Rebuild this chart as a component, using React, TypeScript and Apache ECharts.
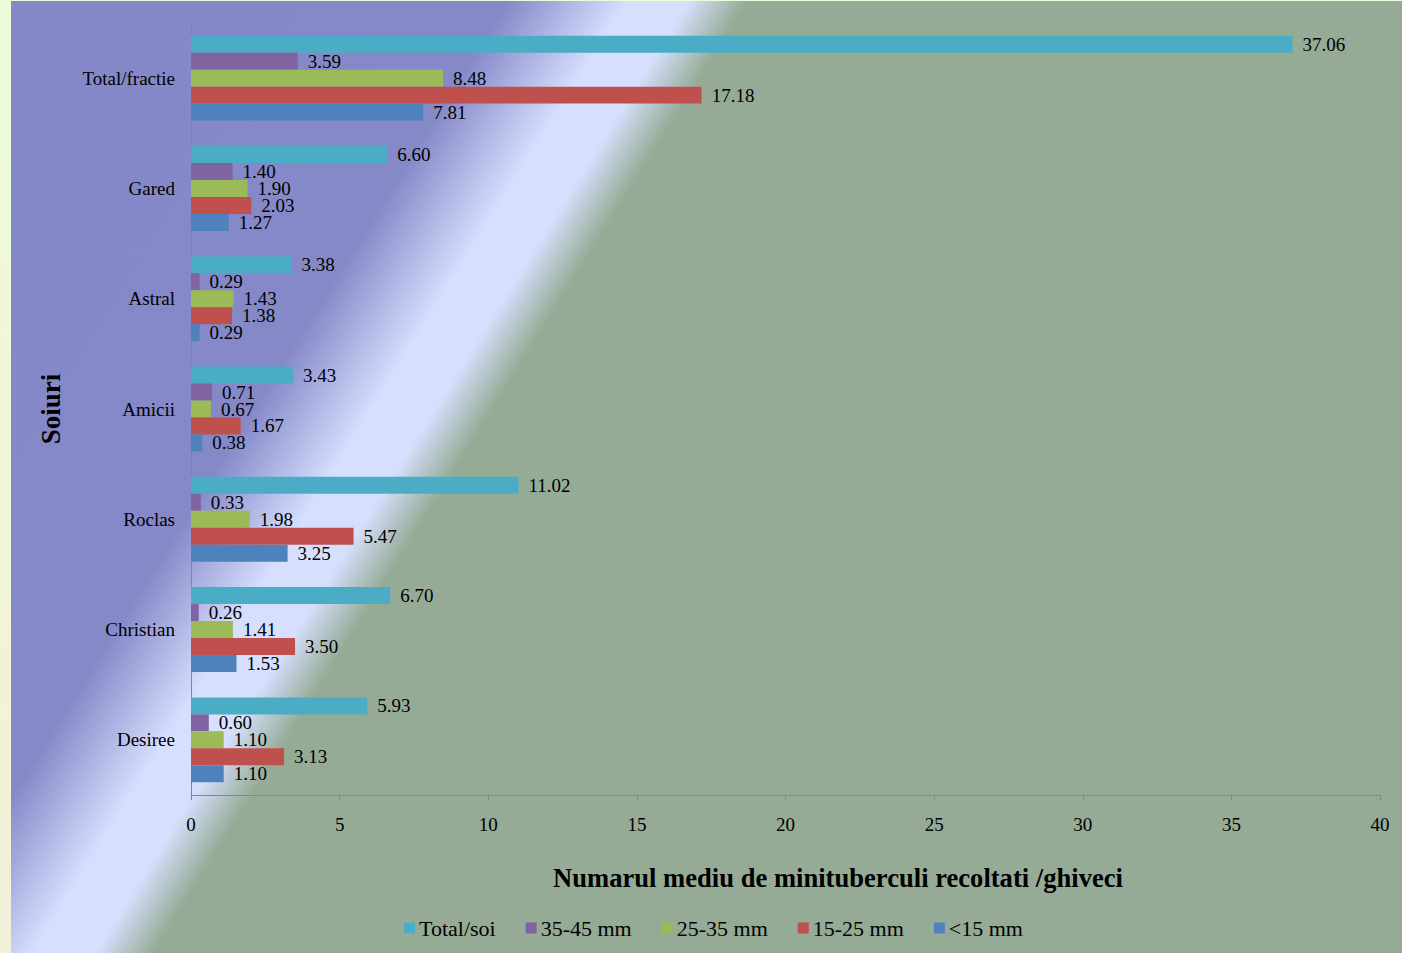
import React, { useEffect, useRef } from "react";
import * as echarts from "echarts";

const categories = ["Desiree", "Christian", "Roclas", "Amicii", "Astral", "Gared", "Total/fractie"];
const seriesNames = ["Total/soi", "35-45 mm", "25-35 mm", "15-25 mm", "<15 mm"];
const totalSoi = [5.93, 6.7, 11.02, 3.43, 3.38, 6.6, 37.06];
const mm35to45 = [0.6, 0.26, 0.33, 0.71, 0.29, 1.4, 3.59];
const mm25to35 = [1.1, 1.41, 1.98, 0.67, 1.43, 1.9, 8.48];
const mm15to25 = [3.13, 3.5, 5.47, 1.67, 1.38, 2.03, 17.18];
const under15 = [1.1, 1.53, 3.25, 0.38, 0.29, 1.27, 7.81];
const seriesColors = ["#4bacc6", "#8064a2", "#9bbb59", "#c0504d", "#4f81bd"];
const xAxisTitle = "Numarul mediu de minituberculi recoltati /ghiveci";
const yAxisTitle = "Soiuri";

const FONT = "'Liberation Serif', 'Times New Roman', serif";

export default function App() {
  const ref = useRef<HTMLDivElement>(null);
  useEffect(() => {
    document.body.style.margin = "0";
    const chart = echarts.init(ref.current!, null, { renderer: "svg" });
    const values = [totalSoi, mm35to45, mm25to35, mm15to25, under15];
    chart.setOption({
      animation: false,
      backgroundColor: new echarts.graphic.LinearGradient(0, 0, 0, 1, [
        { offset: 0, color: "#ecfcd8" },
        { offset: 1, color: "#f3efd8" },
      ]),
      graphic: [
        {
          type: "rect",
          z: -10,
          silent: true,
          shape: { x: 11, y: 1, width: 1391, height: 952 },
          style: {
            fill: new echarts.graphic.LinearGradient(
              0,
              0,
              1437,
              897,
              [
                { offset: 0, color: "#8488c8" },
                { offset: 0.255, color: "#8689c8" },
                { offset: 0.315, color: "#d6e0fe" },
                { offset: 0.345, color: "#d6e0fe" },
                { offset: 0.375, color: "#95ab95" },
                { offset: 1, color: "#95ab95" },
              ],
              true
            ),
          },
        },
        {
          type: "text",
          x: 838,
          y: 878,
          scaleX: 0.95,
          style: {
            text: xAxisTitle,
            font: `bold 28px ${FONT}`,
            fill: "#000",
            textAlign: "center",
            textVerticalAlign: "middle",
          },
        },
        {
          type: "text",
          x: 51,
          y: 409,
          rotation: Math.PI / 2,
          style: {
            text: yAxisTitle,
            font: `bold 27px ${FONT}`,
            fill: "#000",
            textAlign: "center",
            textVerticalAlign: "middle",
          },
        },
      ],
      legend: {
        data: seriesNames,
        left: 399,
        top: 912,
        icon: "rect",
        itemWidth: 11,
        itemHeight: 11,
        itemGap: 30,
        textStyle: { fontFamily: FONT, fontSize: 22, color: "#000", padding: [0, 0, 0, -1] },
      },
      grid: { left: 191, right: 22, top: 23, bottom: 158, containLabel: false },
      xAxis: {
        type: "value",
        min: 0,
        max: 40,
        interval: 5,
        axisLine: { show: true, lineStyle: { color: "#868686", width: 1 } },
        axisTick: { show: true, length: 5, lineStyle: { color: "#868686" } },
        splitLine: { show: false },
        axisLabel: { margin: 20, fontFamily: FONT, fontSize: 19, color: "#000" },
      },
      yAxis: {
        type: "category",
        data: categories,
        axisLine: { show: true, lineStyle: { color: "#868686", width: 1 } },
        axisTick: { show: false },
        axisLabel: { margin: 16, fontFamily: FONT, fontSize: 19, color: "#000" },
      },
      series: seriesNames.map((name, i) => ({
        name,
        type: "bar",
        data: values[i],
        barGap: "0%",
        barCategoryGap: "23%",
        itemStyle: { color: seriesColors[i] },
        label: {
          show: true,
          position: "right",
          distance: 10,
          fontFamily: FONT,
          fontSize: 19,
          color: "#000",
          formatter: (p: any) => Number(p.value).toFixed(2),
        },
      })),
    });
    return () => chart.dispose();
  }, []);
  return (
    <div style={{ position: "fixed", left: 0, top: 0, width: 1402, height: 953 }}>
      <div ref={ref} style={{ width: 1402, height: 953 }} />
    </div>
  );
}
